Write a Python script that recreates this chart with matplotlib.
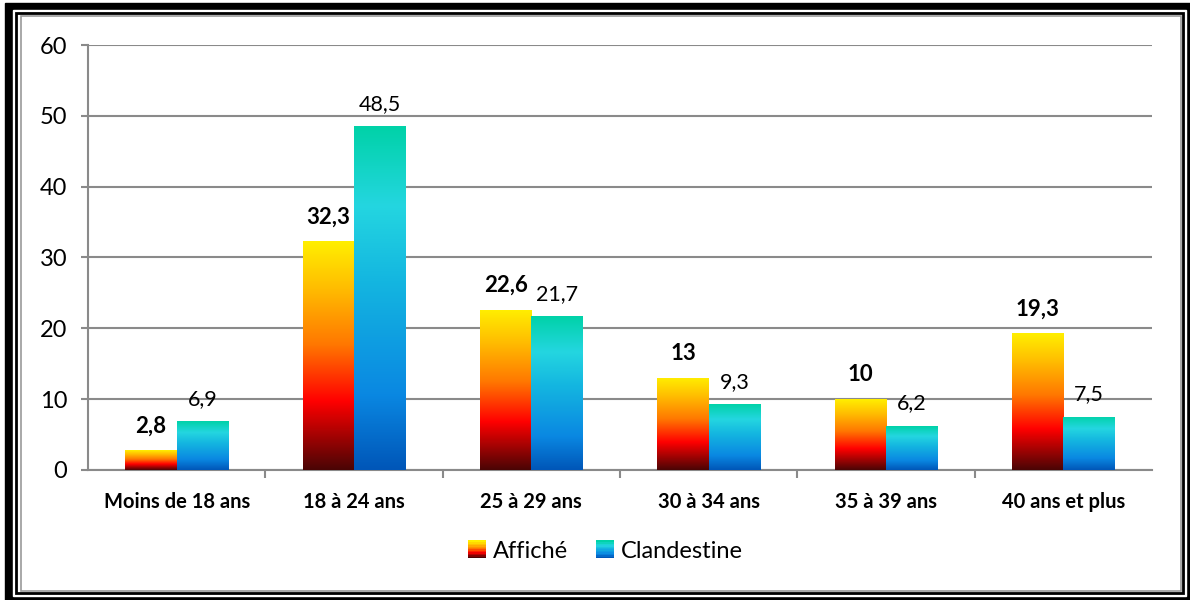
import matplotlib.pyplot as plt
import numpy as np
from matplotlib.colors import LinearSegmentedColormap
from matplotlib.patches import Rectangle
from matplotlib.legend_handler import HandlerBase

plt.rcParams['font.family'] = ['Lato', 'DejaVu Sans']

# data
categories = ['Moins de 18 ans', '18 à 24 ans', '25 à 29 ans', '30 à 34 ans', '35 à 39 ans', '40 ans et plus']
affiche = [2.8, 32.3, 22.6, 13, 10, 19.3]
clandestine = [6.9, 48.5, 21.7, 9.3, 6.2, 7.5]
affiche_lbl = ['2,8', '32,3', '22,6', '13', '10', '19,3']
clandestine_lbl = ['6,9', '48,5', '21,7', '9,3', '6,2', '7,5']
series_names = ['Affiché', 'Clandestine']

## gradients, bottom -> top
cmap_aff = LinearSegmentedColormap.from_list('aff', [(0, '#4a0505'), (0.3, '#ff0000'), (0.55, '#ff7800'),
                                                     (0.8, '#ffbe00'), (1, '#ffef00')])
cmap_cla = LinearSegmentedColormap.from_list('cla', [(0, '#0056b8'), (0.22, '#0a88e2'), (0.55, '#14b6e0'),
                                                     (0.77, '#24d6e0'), (1, '#00d2a8')])
grad = np.linspace(0, 1, 256).reshape(-1, 1)

fig = plt.figure(figsize=(11.9, 6), dpi=100)

# frame around the chart (pixel coords)
bg = fig.add_axes([0, 0, 1, 1])
bg.set_xlim(0, 1190); bg.set_ylim(600, 0); bg.axis('off')
bg.add_patch(Rectangle((4.5, 3), 1186, 597, color='black'))
bg.add_patch(Rectangle((13, 10), 1173, 586, color='white'))
bg.add_patch(Rectangle((16, 13), 1167, 580, fill=False, ec='black', lw=2))
bg.add_patch(Rectangle((20.5, 15.5), 1160, 575, fill=False, ec='#9a9a9a', lw=1.2))

ax = fig.add_axes([0.074, 0.2167, 0.894, 0.7083])
x = np.arange(len(categories))
w = 0.29
b1 = ax.bar(x - w/2, affiche, w, facecolor='none', edgecolor='none')
b2 = ax.bar(x + w/2, clandestine, w, facecolor='none', edgecolor='none')

for bars, cm in [(b1, cmap_aff), (b2, cmap_cla)]:
    for r in bars:
        x0, y0 = r.get_x(), r.get_y()
        im = ax.imshow(grad, cmap=cm, origin='lower', aspect='auto', zorder=3,
                       extent=[x0, x0 + r.get_width(), y0, y0 + r.get_height()])
        im.set_clip_path(r)

for i in range(len(categories)):
    ax.annotate(affiche_lbl[i], (x[i] - w/2, affiche[i]), xytext=(0, 10), textcoords='offset points',
                ha='center', va='bottom', fontsize=16, fontweight='bold')
    ax.annotate(clandestine_lbl[i], (x[i] + w/2, clandestine[i]), xytext=(0, 9), textcoords='offset points',
                ha='center', va='bottom', fontsize=15.5)

ax.set_xlim(-0.5, len(categories) - 0.5)
ax.set_ylim(0, 60)
ax.set_yticks(range(0, 61, 10))
ax.yaxis.grid(True, color='#8a8a8a', lw=1.5)
ax.set_axisbelow(True)
for s in ['top', 'right']:
    ax.spines[s].set_visible(False)
for s in ['left', 'bottom']:
    ax.spines[s].set_color('#8a8a8a')
    ax.spines[s].set_linewidth(1.5)
ax.tick_params(axis='y', colors='#8a8a8a', labelcolor='black', labelsize=17, length=5, width=1.5, pad=10)
ax.set_xticks(x)
ax.set_xticklabels(categories, fontsize=14.5, fontweight='bold')
ax.tick_params(axis='x', length=0, pad=16)
ax.set_xticks(np.arange(0.5, len(categories) - 0.5), minor=True)
ax.tick_params(axis='x', which='minor', colors='#8a8a8a', length=6, width=1.5)


class GradHandler(HandlerBase):
    def __init__(self, cm):
        super().__init__()
        self.cm = cm

    def create_artists(self, legend, orig, xd, yd, width, height, fontsize, trans):
        n = 12
        arts = []
        for k in range(n):
            arts.append(Rectangle((xd, yd + height * k / n), width, height / n + 0.3,
                                  facecolor=self.cm(k / (n - 1)), edgecolor='none', transform=trans))
        return arts


h1 = Rectangle((0, 0), 1, 1)
h2 = Rectangle((0, 0), 1, 1)
fig.legend([h1, h2], series_names, loc='center', bbox_to_anchor=(0.509, 0.08), ncol=2, frameon=False,
           fontsize=17, handlelength=0.75, handleheight=0.75, handletextpad=0.3, columnspacing=1.2,
           handler_map={h1: GradHandler(cmap_aff), h2: GradHandler(cmap_cla)})

plt.savefig('out.png', dpi=100)
